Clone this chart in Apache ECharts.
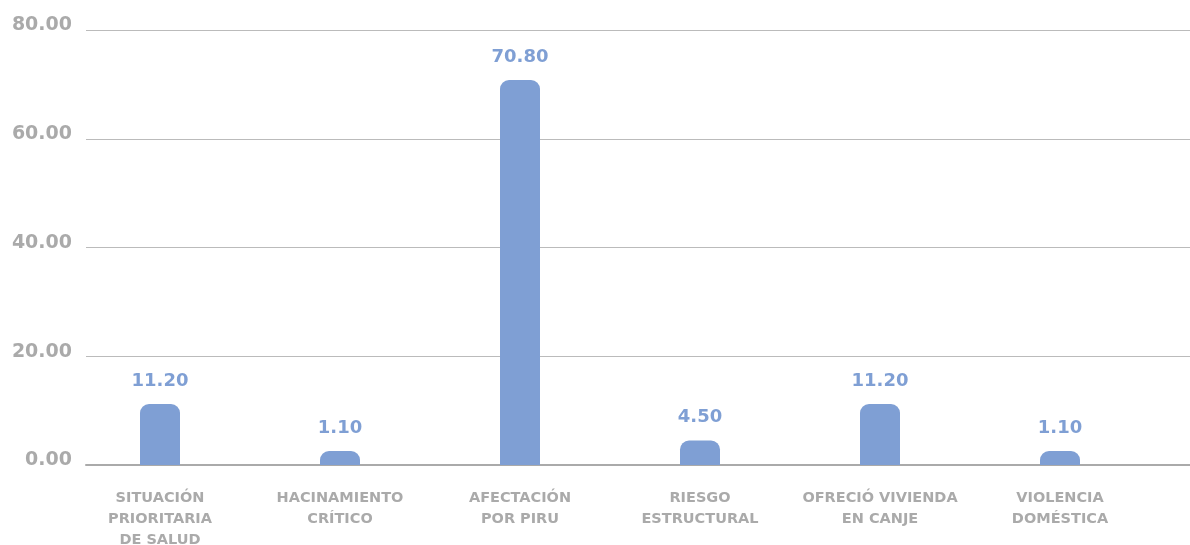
<!DOCTYPE html>
<html>
<head>
<meta charset="utf-8">
<script src="https://cdn.jsdelivr.net/npm/echarts@6/dist/echarts.min.js"></script>
<style>html,body{margin:0;padding:0;background:#fff}#c{width:1190px;height:545px}</style>
</head>
<body>
<div id="c"></div>
<script>
var categories = ["SITUACIÓN\nPRIORITARIA\nDE SALUD", "HACINAMIENTO\nCRÍTICO", "AFECTACIÓN\nPOR PIRU", "RIESGO\nESTRUCTURAL", "OFRECIÓ VIVIENDA\nEN CANJE", "VIOLENCIA\nDOMÉSTICA"];
var values = [11.2, 1.1, 70.8, 4.5, 11.2, 1.1];
var yMin = 0, yMax = 80, yInterval = 20;

var chart = echarts.init(document.getElementById('c'));
var gray = '#aaaaaa';
var blue = '#7f9fd4';
chart.setOption({
  animation: false,
  grid: [
    {left: 86, right: 0, top: 30, bottom: 80, containLabel: false, outerBoundsMode: 'none'},
    {left: 70, width: 1080, top: 30, bottom: 80, containLabel: false, outerBoundsMode: 'none'}
  ],
  xAxis: [
    {gridIndex: 0, type: 'value', min: 0, max: 1, show: true,
     axisLine: {show: true, lineStyle: {color: gray, width: 2}},
     axisTick: {show: false}, axisLabel: {show: false}, splitLine: {show: false}},
    {gridIndex: 1, type: 'category', data: categories,
     axisLine: {show: false}, axisTick: {show: false},
     axisLabel: {color: gray, fontFamily: 'DejaVu Sans', fontWeight: 'bold', fontSize: 14.5,
                 lineHeight: 21, margin: 23, interval: 0}}
  ],
  yAxis: [
    {gridIndex: 0, type: 'value', min: yMin, max: yMax, interval: yInterval,
     axisLine: {show: false}, axisTick: {show: false},
     axisLabel: {color: gray, fontFamily: 'DejaVu Sans', fontWeight: 'bold', fontSize: 19, margin: 14,
                 verticalAlign: 'bottom', lineHeight: 9,
                 formatter: function (v) { return v.toFixed(2); }},
     splitLine: {lineStyle: {color: '#bbbbbb', width: 1}}},
    {gridIndex: 1, type: 'value', min: yMin, max: yMax, interval: yInterval, show: false}
  ],
  series: [{
    type: 'bar', xAxisIndex: 1, yAxisIndex: 1, data: values, barWidth: 40, barMinHeight: 14,
    itemStyle: {color: blue, borderRadius: [9, 9, 0, 0]},
    label: {show: true, position: 'top', distance: 14, color: blue, fontFamily: 'DejaVu Sans',
            fontWeight: 'bold', fontSize: 18, formatter: function (p) { return p.value.toFixed(2); }}
  }]
});
</script>
</body>
</html>
